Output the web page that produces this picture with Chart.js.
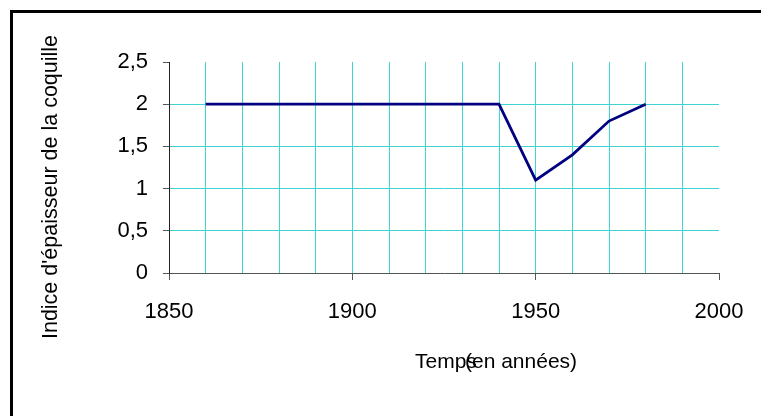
<!DOCTYPE html>
<html>
<head>
<meta charset="utf-8">
<script src="https://cdn.jsdelivr.net/npm/chart.js@4/dist/chart.umd.min.js"></script>
<style>
html,body{margin:0;padding:0;background:#fff;}
#wrap{width:761px;height:416px;position:relative;}
</style>
</head>
<body>
<div id="wrap"><canvas id="c" width="761" height="416"></canvas></div>
<script>
const years = [1860, 1870, 1880, 1890, 1900, 1910, 1920, 1930, 1940, 1950, 1960, 1970, 1980];
const thickness = [2, 2, 2, 2, 2, 2, 2, 2, 2, 1.1, 1.4, 1.8, 2];
const xTickLabels = [1850, 1900, 1950, 2000];
const yTickLabels = ['0', '0,5', '1', '1,5', '2', '2,5'];
const yTitle = "Indice d'épaisseur de la coquille";
const xTitleA = 'Temps';
const xTitleB = '(en années)';

const FONT = 'Liberation Sans, Arial, sans-serif';
const CYAN = '#3fd3d3';
const AXIS = '#555555';

const framePlugin = {
  id: 'frame',
  afterDraw(chart) {
    const ctx = chart.ctx;
    const a = chart.chartArea;
    ctx.save();
    ctx.fillStyle = '#000';
    ctx.fillRect(10, 10, 761 - 10, 3);
    ctx.fillRect(10, 10, 3, 416 - 10);
    ctx.fillStyle = '#000';
    ctx.font = '21px ' + FONT;
    ctx.textBaseline = 'alphabetic';
    ctx.textAlign = 'left';
    ctx.fillText(xTitleA, a.left + 246, 368);
    ctx.fillText(xTitleB, a.left + 296, 368);
    ctx.font = '21.5px ' + FONT;
    ctx.translate(57, 187);
    ctx.rotate(-Math.PI / 2);
    ctx.textAlign = 'center';
    ctx.fillText(yTitle, 0, 0);
    ctx.restore();
  }
};

new Chart(document.getElementById('c'), {
  type: 'line',
  data: {
    datasets: [{
      data: years.map((y, i) => ({x: y, y: thickness[i]})),
      borderColor: '#000080',
      borderWidth: 2.8,
      pointRadius: 0,
      tension: 0,
      fill: false
    }]
  },
  options: {
    responsive: false,
    animation: false,
    devicePixelRatio: 1,
    layout: {padding: {left: 0, top: 62, right: 42, bottom: 0}},
    plugins: {legend: {display: false}, tooltip: {enabled: false}},
    scales: {
      x: {
        type: 'linear',
        min: 1850, max: 2000,
        afterFit(s) { s.height = 143; s.paddingLeft = 0; s.paddingRight = 0; },
        ticks: {
          stepSize: 10,
          autoSkip: false,
          maxRotation: 0,
          padding: 19,
          color: '#000',
          font: {family: FONT, size: 22},
          callback: v => xTickLabels.includes(v) ? String(v) : ''
        },
        grid: {
          color: c => (c.tick && (c.tick.value === 1850 || c.tick.value === 2000)) ? 'rgba(0,0,0,0)' : CYAN,
          tickColor: c => (c.tick && xTickLabels.includes(c.tick.value)) ? AXIS : 'rgba(0,0,0,0)',
          tickLength: 7,
          lineWidth: 1
        },
        border: {color: AXIS, width: 1}
      },
      y: {
        type: 'linear',
        min: 0, max: 2.5,
        afterFit(s) { s.width = 169; s.paddingTop = 0; s.paddingBottom = 0; },
        ticks: {
          stepSize: 0.5,
          padding: 15,
          color: '#000',
          font: {family: FONT, size: 22},
          callback: (v, i) => yTickLabels[Math.round(v * 2)]
        },
        grid: {
          color: c => (c.tick && (c.tick.value === 0 || c.tick.value === 2.5)) ? 'rgba(0,0,0,0)' : CYAN,
          tickColor: AXIS,
          tickLength: 6,
          lineWidth: 1
        },
        border: {color: '#222', width: 1}
      }
    }
  },
  plugins: [framePlugin]
});
</script>
</body>
</html>
